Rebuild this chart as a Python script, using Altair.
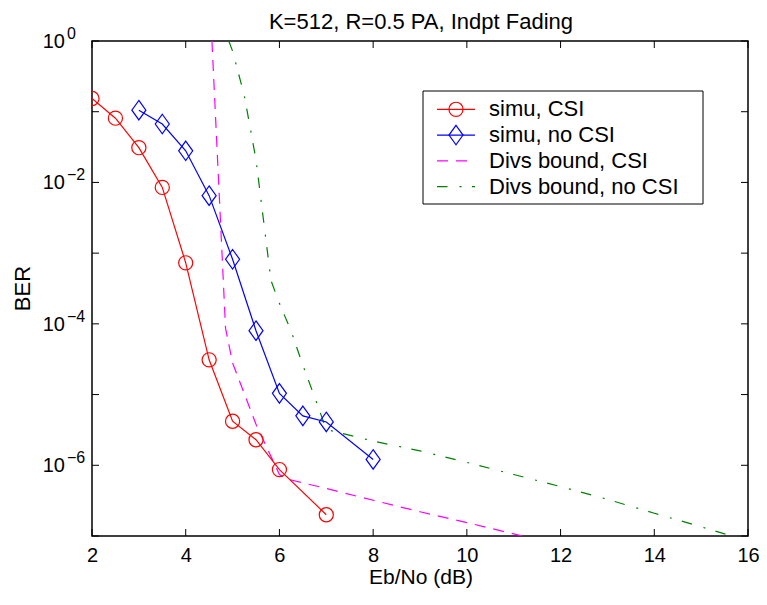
import altair as alt
import pandas as pd

# ---------------- data ----------------
ebno_csi = [2, 2.5, 3, 3.5, 4, 4.5, 5, 5.5, 6, 7]
ber_csi = [0.154, 0.081, 0.031, 0.0085, 7.3e-4, 3.1e-5, 4.2e-6, 2.3e-6, 8.7e-7, 2.0e-7]

ebno_nocsi = [3, 3.5, 4, 4.5, 5, 5.5, 6, 6.5, 7, 8]
ber_nocsi = [0.105, 0.067, 0.028, 0.0065, 8.2e-4, 8.0e-5, 1.04e-5, 5.0e-6, 4.1e-6, 1.21e-6]

ebno_bound_csi = [4.56, 4.85, 5.0, 5.5, 6.0, 6.2, 7, 8, 9, 10, 11, 12]
ber_bound_csi = [1.0, 8.7e-5, 2.8e-5, 3.8e-6, 7.4e-7, 6.3e-7, 4.7e-7, 3.2e-7,
                 2.2e-7, 1.55e-7, 1.07e-7, 7.4e-8]

ebno_bound_nocsi = [4.92, 5.0, 5.25, 5.5, 5.82, 6.0, 6.25, 6.5, 6.75, 7.0,
                    8, 9, 10, 11, 12, 13, 14, 15, 16]
ber_bound_nocsi = [1.0, 0.72, 0.17, 0.021, 4.1e-4, 1.95e-4, 7.9e-5, 2.6e-5, 9.3e-6,
                   3.2e-6, 2.2e-6, 1.6e-6, 1.1e-6, 7.4e-7, 5.0e-7, 3.3e-7, 2.1e-7,
                   1.35e-7, 8.5e-8]

series_names = ["simu, CSI", "simu, no CSI", "Divs bound, CSI", "Divs bound, no CSI"]
x_ticks = [2, 4, 6, 8, 10, 12, 14, 16]
y_tick_exps = [0, -1, -2, -3, -4, -5, -6, -7]
y_label_exps = [0, -2, -4, -6]
title_text = "K=512, R=0.5 PA, Indpt Fading"
x_title = "Eb/No (dB)"
y_title = "BER"

# ---------------- layout / style ----------------
W, H = 656, 495
PAD_L, PAD_T, PAD_R, PAD_B = 84, 33, 11, 53
FONT = "Liberation Sans"
TXT = 22
RED, BLUE, MAGENTA, GREEN = "#ff0000", "#0000ff", "#ff00ff", "#008000"
DASH = [11, 8]
DASHDOT = [10.5, 12, 2, 10.5]
DIAMOND = "M0,-1L0.72,0L0,1L-0.72,0Z"

xs = alt.Scale(domain=[2, 16], nice=False, zero=False)
ys = alt.Scale(type="log", domain=[1e-7, 1], nice=False)
xaxis = alt.Axis(values=x_ticks, format="d", grid=False, ticks=False, tickSize=0,
                 domain=False, labelFontSize=20, labelPadding=9, labelColor="black",
                 labelFont=FONT, labelFlush=False, labelOverlap=False, title=None)


def df_xy(xv, yv):
    return pd.DataFrame({"x": xv, "y": yv})


def enc(chart):
    return chart.encode(
        x=alt.X("x:Q", scale=xs, axis=xaxis),
        y=alt.Y("y:Q", scale=ys, axis=None),
    )


layers = []

# series lines and markers
layers.append(enc(alt.Chart(df_xy(ebno_bound_csi, ber_bound_csi)).mark_line(
    color=MAGENTA, strokeWidth=1.2, strokeDash=DASH, clip=True)))
layers.append(enc(alt.Chart(df_xy(ebno_bound_nocsi, ber_bound_nocsi)).mark_line(
    color=GREEN, strokeWidth=1.2, strokeDash=DASHDOT, clip=True)))
layers.append(enc(alt.Chart(df_xy(ebno_csi, ber_csi)).mark_line(
    color=RED, strokeWidth=1.2, clip=True)))
layers.append(enc(alt.Chart(df_xy(ebno_csi, ber_csi)).mark_point(
    shape="circle", filled=False, size=200, color=RED, strokeWidth=1.2, opacity=1, clip=True)))
layers.append(enc(alt.Chart(df_xy(ebno_nocsi, ber_nocsi)).mark_line(
    color=BLUE, strokeWidth=1.2, clip=True)))
layers.append(enc(alt.Chart(df_xy(ebno_nocsi, ber_nocsi)).mark_point(
    shape=DIAMOND, filled=False, size=380, color=BLUE, strokeWidth=1.2, opacity=1, clip=True)))

# inward tick marks on all four sides
df_xt = pd.DataFrame({"x": x_ticks})
df_yt = pd.DataFrame({"y": [10.0 ** e for e in y_tick_exps]})
TL = 7
for y0, y1 in [(H, H - TL), (0, TL)]:
    layers.append(alt.Chart(df_xt).mark_rule(color="black", strokeWidth=1).encode(
        x=alt.X("x:Q", scale=xs, axis=xaxis), y=alt.value(y0), y2=alt.value(y1)))
for x0, x1 in [(0, TL), (W, W - TL)]:
    layers.append(alt.Chart(df_yt).mark_rule(color="black", strokeWidth=1).encode(
        y=alt.Y("y:Q", scale=ys, axis=None), x=alt.value(x0), x2=alt.value(x1)))

# y tick labels: "10" with a raised exponent
df_yl = pd.DataFrame({
    "y": [10.0 ** e for e in y_label_exps],
    "exp": [str(e).replace("-", "\u2212") for e in y_label_exps],
})
layers.append(alt.Chart(df_yl).mark_text(
    align="right", baseline="middle", fontSize=20, font=FONT, color="black", dy=1).encode(
    y=alt.Y("y:Q", scale=ys, axis=None), x=alt.value(-27), text=alt.value("10")))
layers.append(alt.Chart(df_yl).mark_text(
    align="left", baseline="middle", fontSize=16, font=FONT, color="black", dy=-7).encode(
    y=alt.Y("y:Q", scale=ys, axis=None), x=alt.value(-25), text="exp:N"))

one = alt.Data(values=[{"k": 0}])

# titles
layers.append(alt.Chart(one).mark_text(
    align="center", baseline="middle", fontSize=TXT, font=FONT, color="black").encode(
    x=alt.value(W / 2 + 1), y=alt.value(-19), text=alt.value(title_text)))
layers.append(alt.Chart(one).mark_text(
    align="center", baseline="middle", fontSize=21, font=FONT, color="black").encode(
    x=alt.value(W / 2 + 1), y=alt.value(H + 42), text=alt.value(x_title)))
layers.append(alt.Chart(one).mark_text(
    align="center", baseline="middle", fontSize=TXT, font=FONT, color="black", angle=270).encode(
    x=alt.value(-69), y=alt.value(H / 2), text=alt.value(y_title)))

# legend
LX0, LX1, LY0, LY1 = 331, 611, 50, 163
layers.append(alt.Chart(one).mark_rect(
    fill="white", stroke="black", strokeWidth=1).encode(
    x=alt.value(LX0), x2=alt.value(LX1), y=alt.value(LY0), y2=alt.value(LY1)))
styles = [
    (RED, None, "circle", 200),
    (BLUE, None, DIAMOND, 380),
    (MAGENTA, DASH, None, None),
    (GREEN, DASHDOT, None, None),
]
for i, (name, (col, dash, shp, sz)) in enumerate(zip(series_names, styles)):
    yy = 68.3 + 25.8 * i
    rule_kw = dict(color=col, strokeWidth=1.2)
    if dash is not None:
        rule_kw["strokeDash"] = dash
    layers.append(alt.Chart(one).mark_rule(**rule_kw).encode(
        x=alt.value(345), x2=alt.value(383), y=alt.value(yy)))
    if shp is not None:
        layers.append(alt.Chart(one).mark_point(
            shape=shp, filled=False, size=sz, color=col, strokeWidth=1.2, opacity=1).encode(
            x=alt.value(364), y=alt.value(yy)))
    layers.append(alt.Chart(one).mark_text(
        align="left", baseline="middle", fontSize=TXT, font=FONT, color="black").encode(
        x=alt.value(397), y=alt.value(yy), text=alt.value(name)))

chart = alt.layer(*layers).properties(
    width=W, height=H,
    padding={"left": PAD_L, "top": PAD_T, "right": PAD_R, "bottom": PAD_B},
    autosize=alt.AutoSizeParams(type="none"),
).configure(font=FONT).configure_view(stroke="black", strokeWidth=1.5)

chart.save("out.html", embed_options={"renderer": "svg", "actions": False})
